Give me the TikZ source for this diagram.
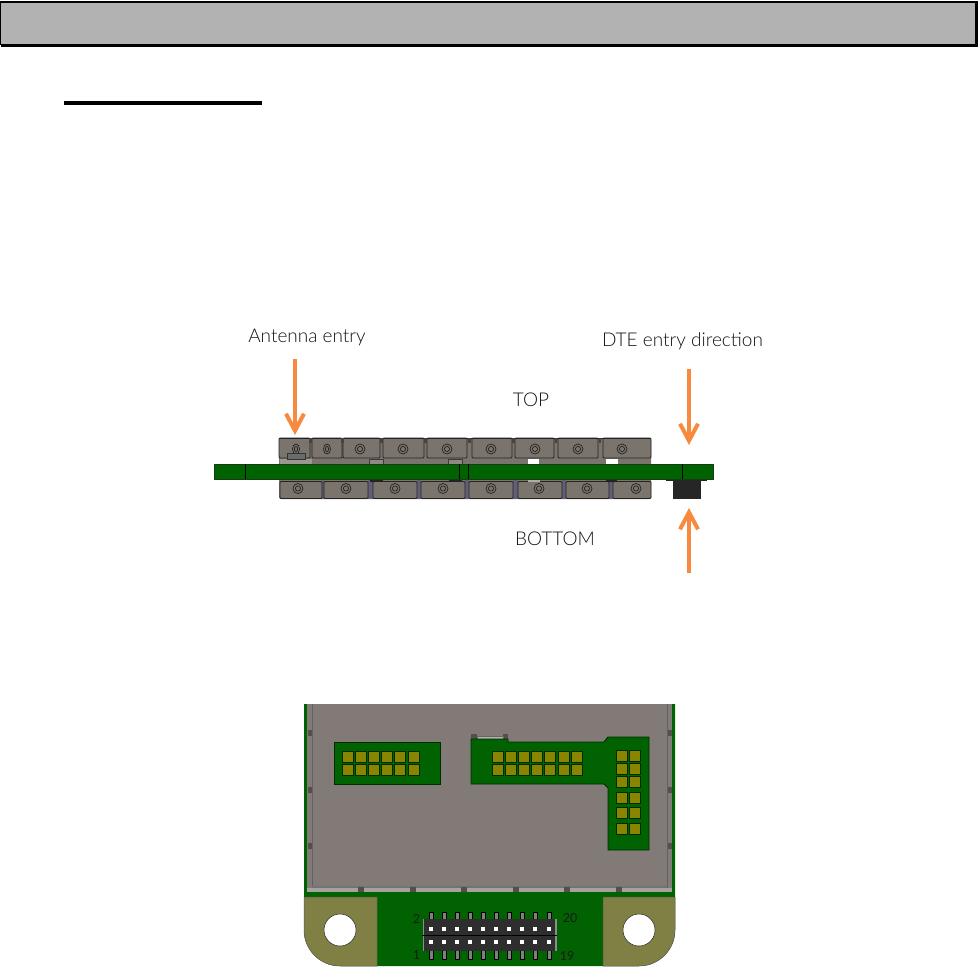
\documentclass[tikz,border=0pt]{standalone}
\usepackage{fontspec}
\setmainfont{Lato Light}
\newfontfamily\numfont{Lato}
\usetikzlibrary{arrows.meta}
\definecolor{pcb}{RGB}{0,98,0}
\definecolor{metal}{RGB}{130,122,118}
\definecolor{sidem}{RGB}{122,116,108}
\definecolor{padc}{RGB}{138,133,0}
\definecolor{lug}{RGB}{128,128,68}
\definecolor{orangea}{RGB}{247,138,62}
\definecolor{edge}{RGB}{35,35,35}
\definecolor{hdr}{RGB}{178,178,178}
\definecolor{linkc}{RGB}{20,20,20}
\tikzset{
 x=1pt,y=-1pt,
 flow/.style={draw=orangea,line width=4pt,-{Straight Barb[length=17pt,width=18pt,line width=4pt]}},
 lbl/.style={inner sep=0pt,font=\fontsize{19}{19}\selectfont,text=linkc},
 small/.style={inner sep=0pt,font=\numfont\fontsize{12.5}{12.5}\selectfont,text=black!90},
 blk/.style={fill=sidem,draw=edge,line width=0.9pt,rounded corners=1pt},
 screw/.style={draw=edge,line width=0.7pt,fill=none},
 board/.style={fill=pcb,draw=black!55!pcb,line width=0.9pt},
 pad/.style={fill=padc,draw=black!55!pcb,line width=0.8pt},
 tick/.style={fill=metal!65!black,draw=none},
 lugc/.style={fill=lug,draw=black!65,line width=0.5pt},
 pin/.style={fill=black!50,draw=black,line width=0.5pt},
}
\begin{document}
\begin{tikzpicture}
\useasboundingbox (0,0) rectangle (978,972);
\fill[white] (0,0) rectangle (978,972);
% header
\fill[black] (0,1) rectangle (978,47);
\fill[hdr] (1,2.5) rectangle (975,44);
\fill[white] (0,45) rectangle (1,47);
% underline
\fill[black] (64,101) rectangle (262,105);
% side view: top row
\fill[sidem,rounded corners=2pt] (279,438) rectangle (651,466);
\foreach \a/\b in {279/310,312/342,343/380,383/424,427/467,472/512,515/554,558/598,603/651}
  \draw[blk] (\a,438) rectangle (\b,458);
\draw[edge,line width=.9pt] (279,438) -- (651,438);
\foreach \c in {310.5,342.5,381.5,425.5,469.5,513.5,556,600}
  \fill[edge!60!sidem] (\c-1.3,438) rectangle (\c+1.3,443);
\foreach \c in {360,403,447,491,535,578,622}{
  \draw[screw] (\c,449) circle (5); \draw[screw] (\c,449) circle (2.6);}
\foreach \c in {296,327}{
  \draw[screw] (\c,449) ellipse (3.5 and 5); \draw[screw] (\c,449) ellipse (1.6 and 2.6);}
\fill[sidem!75!white] (280,459) rectangle (312,464);
\fill[black!58] (287,453) rectangle (305,459);
\draw[black!80,line width=.5pt] (287,453) rectangle (305,459);
\foreach \a/\b in {369/383,448/462}
  \draw[fill=sidem!85!white,draw=edge!70!sidem,line width=.4pt] (\a,459) rectangle (\b,464);
\foreach \a/\b in {528/539,606/618}
  \fill[white] (\a,459) rectangle (\b,464);
% side view: bottom row
\fill[sidem,rounded corners=2pt] (279,478) rectangle (651,499);
\foreach \a/\b in {322/324,368/373,417/421,465/469,513/518,562/566,609/613}
  \fill[black!35!blue!20!sidem] (\a,480) rectangle (\b,499);
\foreach \a/\b in {280/322,324/368,373/417,421/465,469/513,518/562,566/609,613/651}
  \draw[blk] (\a,481.5) rectangle (\b,498.5);
\foreach \c in {298,346,395,443,491,539,587,636}{
  \draw[screw] (\c,488.5) circle (5); \draw[screw] (\c,488.5) circle (2.6);}
\foreach \a/\b in {370/383,449/462,606/617}
  \fill[edge] (\a,479) rectangle (\b,482);
\fill[sidem!60!white] (528,479) rectangle (540,481.5);
% pcb side
\fill[edge] (666,479) rectangle (707,481);
\fill[black!85] (673,479) rectangle (701,499);
\fill[pcb] (214,464) rectangle (713,479);
\draw[edge!60!pcb,line width=.4pt] (214,464) rectangle (713,479);
\foreach \c in {245,459,468,682}
  \draw[black,line width=.7pt] (\c,464) -- (\c,479);
% arrows
\coordinate (antS) at (295,359); \coordinate (antE) at (295,435);
\coordinate (dteS) at (689,369); \coordinate (dteE) at (689,445);
\coordinate (upS) at (689,573); \coordinate (upE) at (689,508);
\draw[flow] (antS) -- (antE);
\draw[flow] (dteS) -- (dteE);
\draw[flow] (upS) -- (upE);
\node[lbl] (antenna) at (307,337) {Antenna entry};
\node[lbl] (dte) at (682.5,341) {DTE entry direction};
\node[lbl] (top) at (531,400) {TOP};
\node[lbl] (bottom) at (555,539) {BOTTOM};
% bottom view
\path[fill=pcb] (304,704) -- (675,704) -- (675,930) arc[start angle=0,end angle=90,radius=36] -- (340,966) arc[start angle=90,end angle=180,radius=36] -- cycle;
\fill[metal] (307,704) rectangle (672,892);
\fill[metal!70!white] (307,888) rectangle (672,892);
\draw[black!62,line width=.8pt] (312,704) -- (312,887) -- (667,887) -- (667,704);
\fill[black!55] (312,886) rectangle (667,888);
\foreach \c in {730,787,843}{
  \fill[tick] (307.5,\c) rectangle (311.5,\c+6);
  \fill[tick] (667.5,\c) rectangle (672,\c+6);}
\foreach \c in {358,410,461,513,564,616}
  \fill[tick] (\c,887) rectangle (\c+6,892);
% boards
\draw[board] (334,742) rectangle (440,784);
\fill[tick] (471,734) rectangle (477,739);
\fill[tick] (503,734) rectangle (508,739);
\draw[black!60,line width=.8pt,fill=metal!60!white] (477,736) rectangle (503,739);
\draw[board] (471,739) -- (508,739) -- (508,742) -- (604,742) -- (608,737) -- (649,737) -- (649,850) -- (608,850) -- (608,788) -- (604,784) -- (471,784) -- cycle;
\foreach \x in {348,361,374,387,400,414}
  \foreach \y in {757,770}
    \draw[pad] (\x-5.3,\y-5.3) rectangle (\x+5.3,\y+5.3);
\foreach \x in {498,511,524,537,550,564,577}
  \foreach \y in {757,770}
    \draw[pad] (\x-5.3,\y-5.3) rectangle (\x+5.3,\y+5.3);
\foreach \x in {622,635}
  \foreach \y in {756,769,782,798,813,829}
    \draw[pad] (\x-5.3,\y-5.3) rectangle (\x+5.3,\y+5.3);
% mounting lugs
\path[lugc] (304,897) -- (377,897) -- (377,966) -- (340,966) arc[start angle=90,end angle=180,radius=36] -- cycle;
\path[lugc] (603,897) -- (675,897) -- (675,930) arc[start angle=0,end angle=90,radius=36] -- (603,966) -- cycle;
\draw[fill=white,draw=edge,line width=.5pt] (340,930) circle (16);
\draw[fill=white,draw=edge,line width=.5pt] (639,930) circle (16);
% header connector
\foreach \x in {431,444,457,470,483,496,509,522,535,549}{
  \draw[pin] (\x-2.2,912) rectangle (\x+2.2,920);
  \draw[pin] (\x-2.2,950) rectangle (\x+2.2,959);}
\fill[black!82] (423,919) rectangle (557,951);
\fill[black!45] (422.5,919) rectangle (424,951);
\fill[black!45] (555,919) rectangle (557,951);
\draw[black,line width=.8pt] (422,935) -- (557,935);
\foreach \x in {431,444,457,470,483,496,509,522,535,549}
  \foreach \y in {929,942}
    \fill[white] (\x-2,\y-2) rectangle (\x+2,\y+2);
\node[small] (p2) at (416.5,918.5) {2};
\node[small] (p1) at (416.5,955.5) {1};
\node[small] (p20) at (570,918.5) {20};
\node[small] (p19) at (567,955.5) {19};
\end{tikzpicture}
\end{document}
